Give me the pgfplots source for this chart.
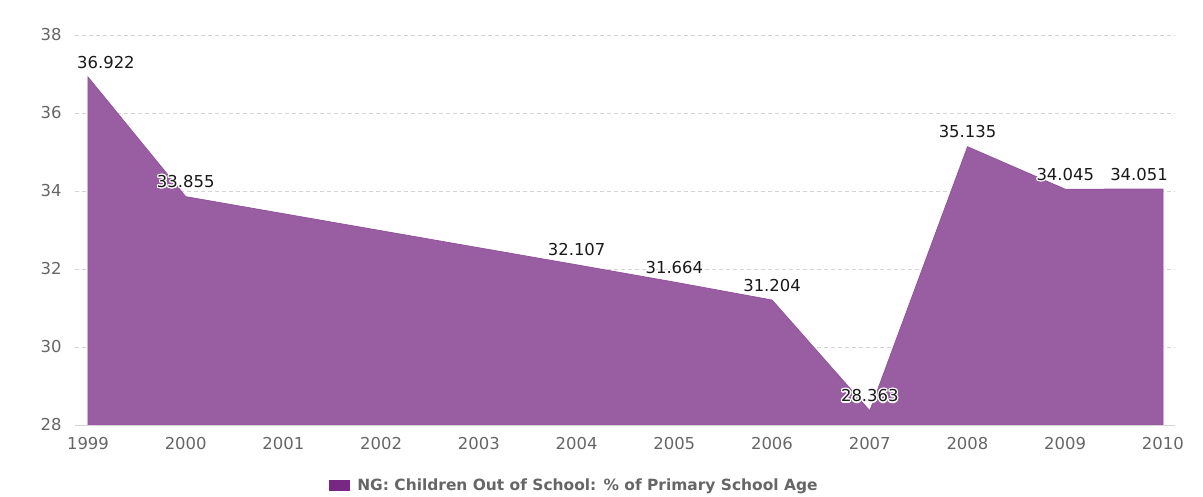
\documentclass[border=0pt]{standalone}
\usepackage{pgfplots}
\pgfplotsset{compat=1.18}
\usepackage{fontspec}
\setmainfont{DejaVu Sans}
\usepackage{contour}
\contourlength{1.2pt}
\definecolor{areafill}{RGB}{153,94,162}
\definecolor{serieslc}{RGB}{119,40,131}
\definecolor{gridc}{RGB}{212,212,212}
\definecolor{tickc}{RGB}{102,102,102}
\begin{document}
\begin{tikzpicture}
\path[use as bounding box] (-75bp,-72bp) rectangle (1128bp,425bp);
\begin{axis}[
  at={(0,0)}, anchor=south west,
  scale only axis,
  width=1100bp, height=390bp,
  xmin=1998.867, xmax=2010.123,
  ymin=28, ymax=38,
  xtick={1999,...,2010},
  ytick={28,30,...,38},
  xticklabel style={/pgf/number format/1000 sep={}, font=\fontsize{16.5}{18}\selectfont, text=tickc, anchor=north, yshift=-9bp},
  yticklabel style={font=\fontsize{16.5}{18}\selectfont, text=tickc, anchor=east, xshift=-10bp},
  /pgf/number format/assume math mode=true,
  axis line style={draw=none},
  tick style={draw=none},
  ymajorgrids,
  major grid style={gridc, dash pattern=on 4bp off 3bp, line width=0.8bp},
  clip=false,
  legend style={at={(0.454,-0.154)}, anchor=center, draw=none, fill=none,
    font=\fontsize{15.5}{18}\selectfont\bfseries, text=tickc,
    legend cell align=left, inner sep=0pt, nodes={inner xsep=2bp}},
  legend image code/.code={\fill[serieslc, draw=none] (0bp,-5.5bp) rectangle (21bp,5.5bp); \path[draw=none, fill=none] (0bp,0bp) -- (26bp,0bp);},
]
\addplot[fill=areafill, draw=areafill!80!serieslc, line width=0.8bp, forget plot] coordinates {
(1999,36.922) (2000,33.855) (2004,32.107) (2005,31.664) (2006,31.204) (2007,28.363) (2008,35.135) (2009,34.045) (2010,34.051)
} \closedcycle;
\draw[gridc, line width=0.8bp] (axis cs:1998.867,28) -- (axis cs:2010.123,28);
% labels
\addplot[draw=none, forget plot, point meta=explicit symbolic,
  nodes near coords={\contour{white}{\pgfplotspointmeta}},
  nodes near coords style={font=\fontsize{16.5}{18}\selectfont, text=black!90, anchor=base, yshift=9bp, inner sep=0pt}]
coordinates {
(2000,33.855) [33.855] (2004,32.107) [32.107] (2005,31.664) [31.664] (2006,31.204) [31.204] (2007,28.363) [28.363] (2008,35.135) [35.135] (2009,34.045) [34.045]
};
\addplot[draw=none, forget plot, point meta=explicit symbolic,
  nodes near coords={\contour{white}{\pgfplotspointmeta}},
  nodes near coords style={font=\fontsize{16.5}{18}\selectfont, text=black!90, anchor=base west, xshift=-11bp, yshift=9bp, inner sep=0pt}]
coordinates {(1999,36.922) [36.922]};
\addplot[draw=none, forget plot, point meta=explicit symbolic,
  nodes near coords={\contour{white}{\pgfplotspointmeta}},
  nodes near coords style={font=\fontsize{16.5}{18}\selectfont, text=black!90, anchor=base east, xshift=5bp, yshift=9bp, inner sep=0pt}]
coordinates {(2010,34.051) [34.051]};
\addlegendimage{legend image code/.code={\fill[serieslc, draw=none] (0bp,-5.5bp) rectangle (21bp,5.5bp); \path[draw=none, fill=none] (0bp,0bp) -- (26bp,0bp);}}
\addlegendentry{NG: Children Out of School: \% of Primary School Age}
\end{axis}
\end{tikzpicture}
\end{document}
